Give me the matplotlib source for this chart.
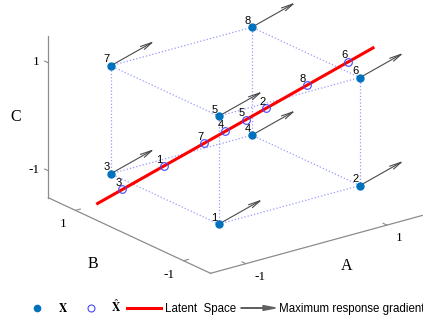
import numpy as np
import matplotlib.pyplot as plt
from matplotlib.lines import Line2D
from matplotlib.patches import FancyArrow
from matplotlib.legend_handler import HandlerPatch
from matplotlib.transforms import offset_copy

plt.rcParams["mathtext.fontset"] = "stix"

# corners of the cube (A, B, C), numbered 1..8
A = [-1, 1, -1, 1, -1, 1, -1, 1]
B = [-1, -1, 1, 1, -1, -1, 1, 1]
C = [-1, -1, -1, -1, 1, 1, 1, 1]
point_names = ["1", "2", "3", "4", "5", "6", "7", "8"]

# latent space direction (unit vector), its drawn extent, gradient arrow length
latent_dir = [0.746, -0.300, 0.594]
latent_extent = [-2.0, 2.0]
grad_len = 0.6

lims = [-1.5, 1.5]
ticks = [-1, 1]
tick_labels = ["-1", "1"]

dot_color = "#0072BD"
hat_color = "#4646FF"
edge_color = "#9A9AFF"
axis_color = "#8C8C8C"
arrow_color = "#4A4A4A"

X = np.array([A, B, C], dtype=float).T
d = np.array(latent_dir)
t = X @ d
Xhat = np.outer(t, d)

fig = plt.figure(figsize=(4.23, 3.2), dpi=100)
S = 320
ax = fig.add_axes([71 / 423, 30 / 320, S / 423, S / 320], projection="3d",
                  computed_zorder=False)
ax.set_proj_type("ortho")
ax.view_init(elev=20.9, azim=-127.45)
ax.set_xlim(*lims, view_margin=0)
ax.set_ylim(*lims, view_margin=0)
ax.set_zlim(*lims, view_margin=0)
ax.set_box_aspect((1, 1, 0.65), zoom=1.259)
ax.set_axis_off()


def shifted(dx, dy):
    return offset_copy(ax.transData, fig=fig, x=dx, y=dy, units="dots")


# cube edges
for i in range(8):
    for j in range(i + 1, 8):
        if np.sum(X[i] != X[j]) == 1:
            ax.plot([X[i, 0], X[j, 0]], [X[i, 1], X[j, 1]], [X[i, 2], X[j, 2]],
                    ls=":", color=edge_color, lw=0.9, zorder=1)

# axis lines, ticks and labels (MATLAB style, box off)
lo, hi = lims
ax.plot([lo, lo], [hi, hi], [lo, hi], color=axis_color, lw=0.9, zorder=1)
ax.plot([lo, lo], [hi, lo], [lo, lo], color=axis_color, lw=0.9, zorder=1)
ax.plot([lo, hi], [lo, lo], [lo, lo], color=axis_color, lw=0.9, zorder=1)
tick_len = 0.07
serif = {"family": "Liberation Serif", "size": 9.5}
for tv, tl in zip(ticks, tick_labels):
    ax.plot([tv, tv], [lo, lo + tick_len], [lo, lo], color=axis_color, lw=0.8)
    ax.plot([lo, lo + tick_len], [tv, tv], [lo, lo], color=axis_color, lw=0.8)
    ax.plot([lo, lo], [hi, hi + tick_len], [tv, tv], color=axis_color, lw=0.8)
    ax.text(tv, lo, lo, tl, ha="left", va="top", fontdict=serif,
            transform=shifted(9, -7))
    ax.text(lo, tv, lo, tl, ha="right", va="top", fontdict=serif,
            transform=shifted(-9, -8))
    ax.text(lo, hi, tv, tl, ha="right", va="center", fontdict=serif,
            transform=shifted(-9, 1))

label_font = {"family": "Liberation Serif", "size": 11.5}
ax.text(0, lo, lo, "A", ha="center", va="center", fontdict=label_font,
        transform=shifted(30, -22))
ax.text(lo, 0, lo, "B", ha="center", va="center", fontdict=label_font,
        transform=shifted(-37, -28))
ax.text(lo, hi, 0, "C", ha="center", va="center", fontdict=label_font,
        rotation=90, transform=shifted(-33, 0))

# latent space line
ends = np.outer(latent_extent, d)
ax.plot(ends[:, 0], ends[:, 1], ends[:, 2], color="red", lw=2.2, zorder=3)

# projected points
ax.plot(Xhat[:, 0], Xhat[:, 1], Xhat[:, 2], ls="", marker="o", ms=5.5,
        mfc="none", mec=hat_color, mew=0.8, zorder=4)

# gradient arrows
U = np.tile(d, (8, 1))
ax.quiver(X[:, 0], X[:, 1], X[:, 2], U[:, 0], U[:, 1], U[:, 2],
          length=grad_len, normalize=True, arrow_length_ratio=0.25,
          color=arrow_color, lw=0.8, zorder=5)

# data points
ax.plot(X[:, 0], X[:, 1], X[:, 2], ls="", marker="o", ms=5, color=dot_color,
        zorder=6)

num_font = {"family": "Liberation Sans", "size": 8}
for k, name in enumerate(point_names):
    ax.text(X[k, 0], X[k, 1], X[k, 2], name, ha="right", va="bottom",
            fontdict=num_font, transform=shifted(-1, 1.5), zorder=7)
    ax.text(Xhat[k, 0], Xhat[k, 1], Xhat[k, 2], name, ha="right", va="bottom",
            fontdict=num_font, transform=shifted(-1, 1.5), zorder=7)

# the axes box is square, so let the marks spill past it
for artist in ax.get_children():
    artist.set_clip_on(False)


def make_arrow(legend, orig_handle, xdescent, ydescent, width, height, fontsize):
    return FancyArrow(0, height / 2, width, 0, width=0.3, head_width=3.5,
                      head_length=9, length_includes_head=True)


handles = [
    Line2D([], [], ls="", marker="o", ms=4.5, color=dot_color),
    Line2D([], [], ls="", marker="o", ms=5, mfc="none", mec=hat_color, mew=0.8),
    Line2D([], [], color="red", lw=2.2),
    FancyArrow(0, 0, 1, 0, color="#606060"),
]
names = [r"$\mathbf{X}$", r"$\hat{\mathbf{X}}$", "Latent  Space",
         "Maximum response gradient"]
fig.legend(handles, names, loc="lower left", bbox_to_anchor=(20 / 423, 5 / 320),
           ncol=4, frameon=False, handlelength=3, handletextpad=0.3,
           columnspacing=0.45, borderpad=0, borderaxespad=0,
           handler_map={FancyArrow: HandlerPatch(patch_func=make_arrow)},
           prop={"family": "Liberation Sans", "size": 8.3})

fig.savefig("out.png", dpi=100)
